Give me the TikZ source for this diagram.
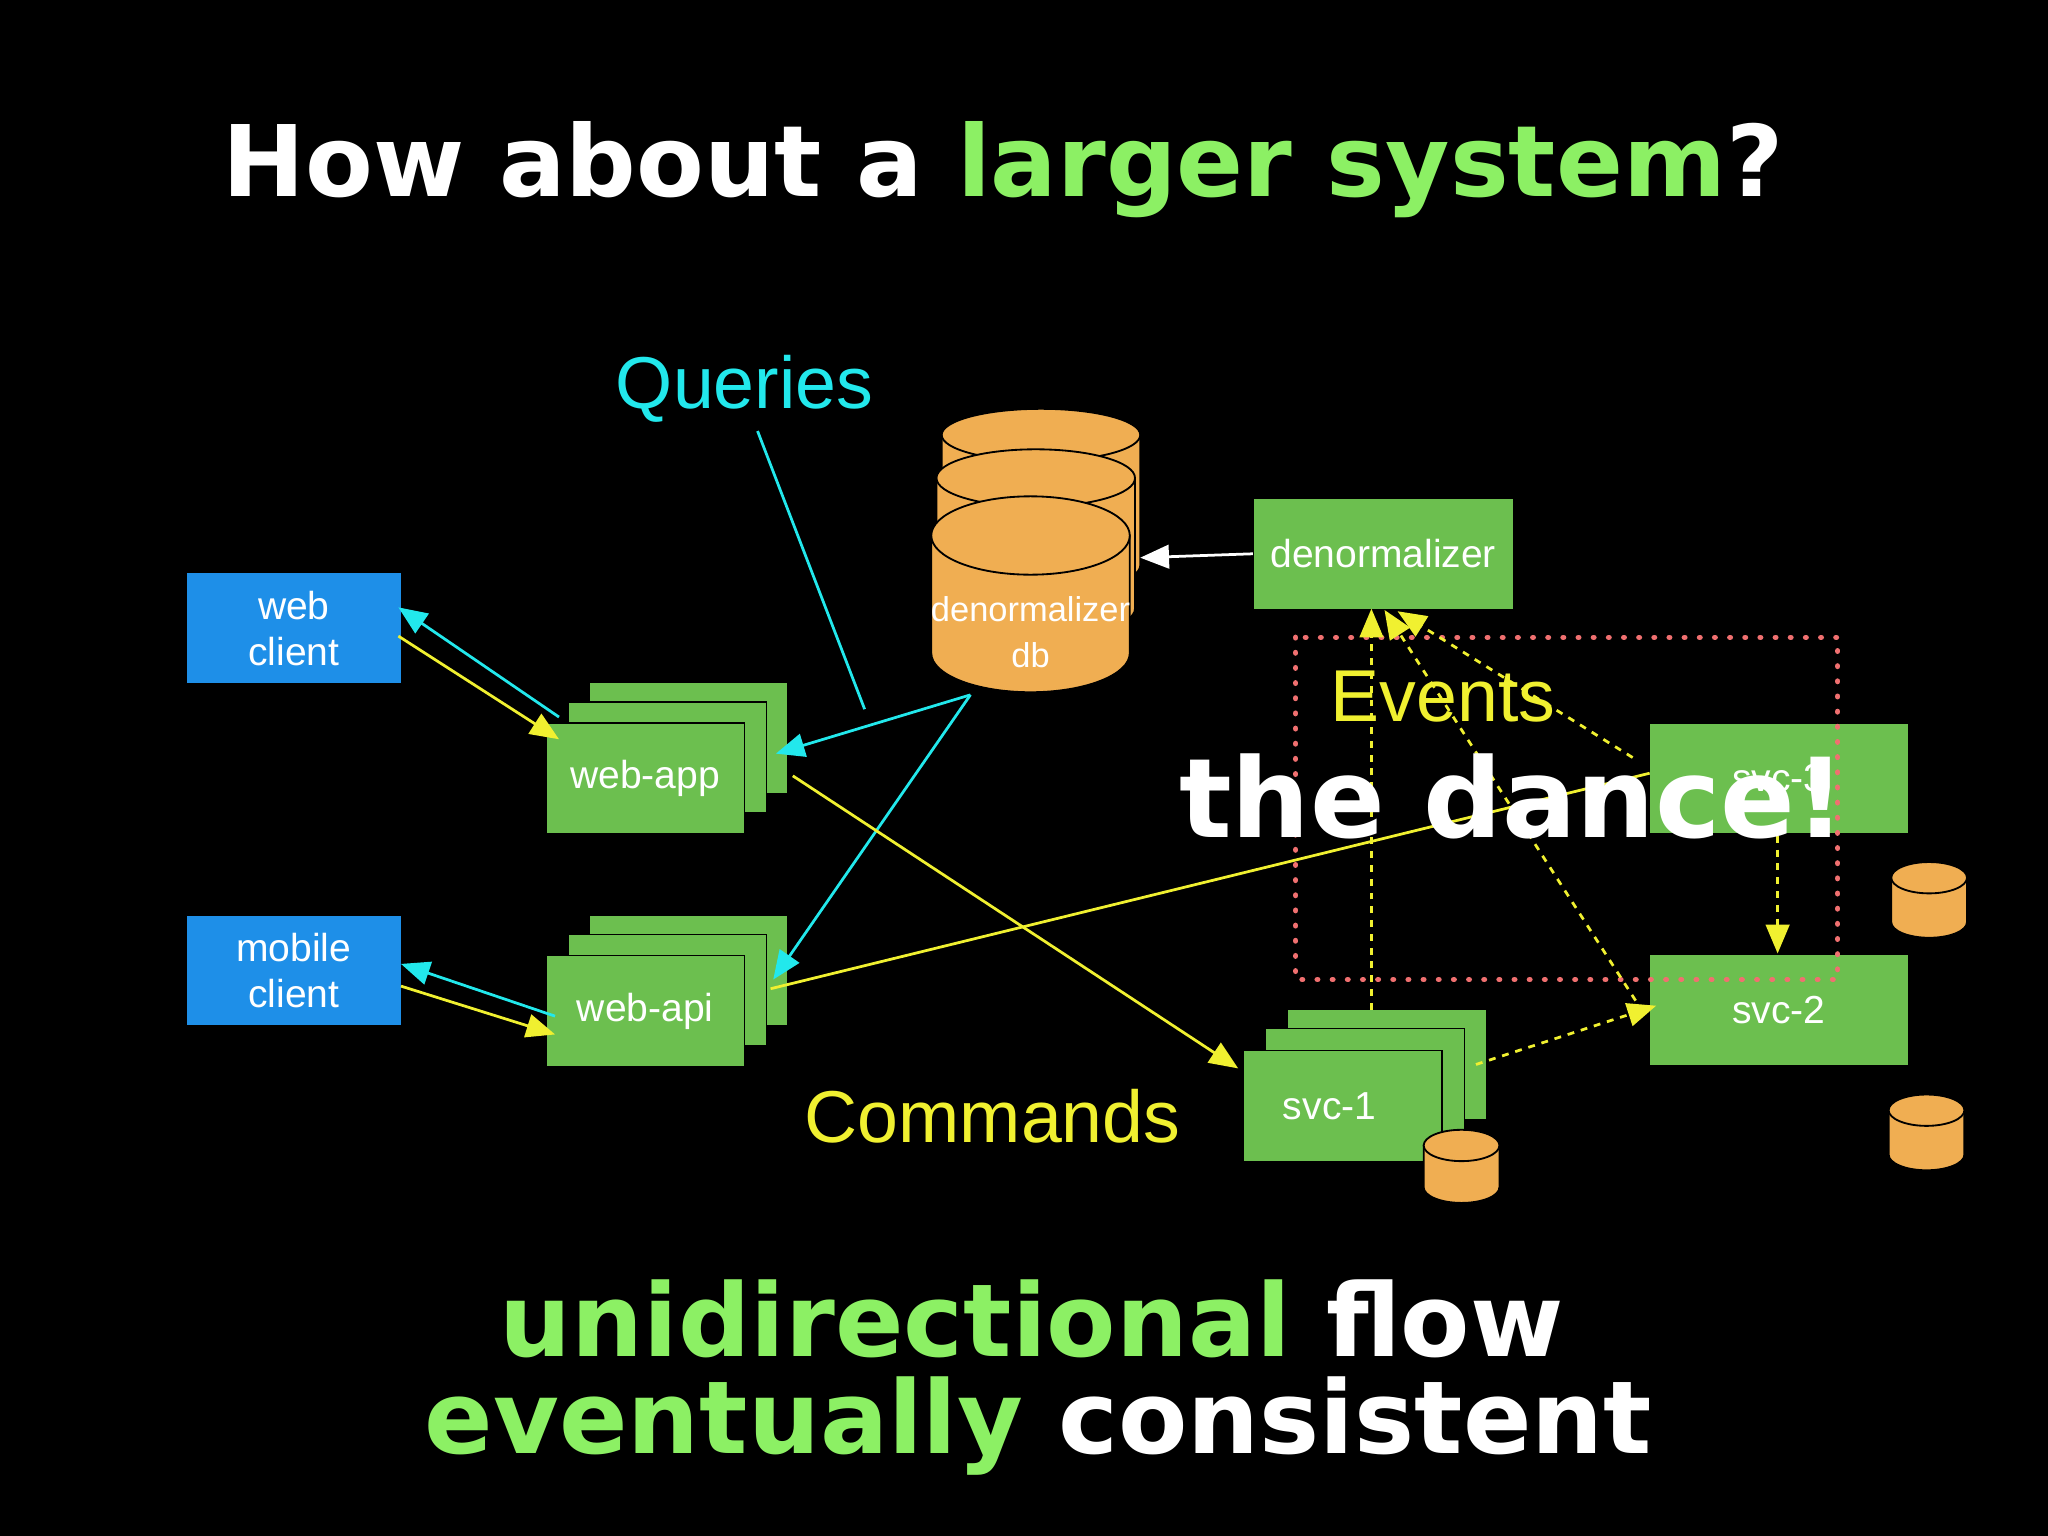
\documentclass[tikz,border=0pt]{standalone}
\usepackage{fontspec}
\setmainfont{Liberation Sans}
\newfontfamily\bold{DejaVu Sans}
\usetikzlibrary{arrows.meta}
\definecolor{grn}{HTML}{6CBF4F}
\definecolor{lgrn}{HTML}{8CF064}
\definecolor{blu}{HTML}{1E8FE8}
\definecolor{org}{HTML}{F0AE52}
\definecolor{cyn}{HTML}{22E8EC}
\definecolor{yel}{HTML}{F0F030}
\definecolor{rd}{HTML}{F07070}
\tikzset{
 box/.style={fill=#1,minimum width=1.64cm,minimum height=0.84cm,text=white,font=\fontsize{8.5}{10}\selectfont,align=center,inner sep=0},
 gbox/.style={fill=grn,draw=black,line width=0.3pt,minimum width=1.52cm,minimum height=0.85cm,inner sep=0},
 cya/.style={cyn,line width=0.6pt,-{Triangle[length=2.2mm,width=1.8mm]}},
 yla/.style={yel,line width=0.6pt,-{Triangle[length=2.2mm,width=1.8mm]}},
 ydash/.style={yla,dash pattern=on 1.5pt off 1.5pt},
 big/.style={font=\bold\bfseries\fontsize{22}{26}\selectfont}
}
\newcommand{\cyl}[5]{% x y rx ry h
 \fill[org,draw=black,line width=0.4pt] (#1-#3,#2) -- (#1-#3,#2+#5) arc[start angle=180,end angle=0,x radius=#3,y radius=#4] -- (#1+#3,#2) -- cycle;
 \draw[black,line width=0.4pt,fill=org] (#1,#2) ellipse[x radius=#3,y radius=#4];}
\begin{document}
\begin{tikzpicture}[x=0.01cm,y=-0.01cm]
\fill[black] (0,0) rectangle (1568,1176);
\node[font=\bold\bfseries\fontsize{21.5}{26}\selectfont] (title) at (768,130) {\textcolor{white}{How about a }\textcolor{lgrn}{larger system}\textcolor{white}{?}};
\node[cyn,font=\fontsize{16}{18}\selectfont] (q) at (570,298) {Queries};
\node[yel,font=\fontsize{16}{18}\selectfont] (cmd) at (760,855) {Commands};
% clients
\node[box=blu] (wc) at (225,481) {web\\client};
\node[box=blu] (mc) at (225,743) {mobile\\client};
% web-app
\node[gbox] at (527,565) {};
\node[gbox] at (511,580) {};
\node[gbox,text=white,font=\fontsize{8.5}{10}\selectfont] (wa) at (494,596) {web-app};
\node[gbox] at (527,743) {};
\node[gbox] at (511,758) {};
\node[gbox,text=white,font=\fontsize{8.5}{10}\selectfont] (wi) at (494,774) {web-api};
% svc-1
\node[gbox] at (1062,815) {};
\node[gbox] at (1045,830) {};
\node[gbox,text=white,font=\fontsize{8.5}{10}\selectfont] (s1) at (1028,847) {\hspace*{-0.2cm}svc-1};
\cyl{1119}{877}{29}{12}{32}
% denormalizer
\node[box=grn,minimum width=1.98cm] (dn) at (1059,424) {denormalizer};
\node[box=grn,minimum width=1.98cm] (s3) at (1362,596) {svc-3};
\node[box=grn,minimum width=1.98cm] (s2) at (1362,773) {svc-2};
\cyl{1477}{672}{29}{12}{34}
\cyl{1475}{850}{29}{12}{34}
% db stack
\cyl{797}{333}{76}{20}{100}
\cyl{793}{366}{76}{22}{100}
\cyl{789}{410}{76}{30}{90}
\node[white,font=\fontsize{7.5}{10}\selectfont,align=center] (db) at (789,484) {denormalizer\\db};
\coordinate (dbb) at (743,532);
% red dotted
\draw[rd,line width=1.2pt,dash pattern=on 0.1pt off 3.2pt,line cap=round] (992,488) rectangle (1407,750);
\node[yel,font=\fontsize{16}{18}\selectfont] (ev) at (1105,533) {Events};
% arrows
\draw[cya] (428,549) -- (305,465);
\draw[yla] (305,487) -- (428,566);
\draw[cya] (425,778) -- (307,738);
\draw[yla] (307,755) -- (425,792);
\draw[cyn,line width=0.6pt] (580,330) -- (662,543);
\draw[cya] (dbb) -- (594,577);
\draw[cya] (dbb) -- (592,750);
\draw[white,line width=0.6pt,-{Triangle[length=2.2mm,width=1.8mm]}] (dn.west) -- (873,427);
\draw[yla] (607,594) -- (948,818);
\draw[yel,line width=0.6pt] (590,757) -- (1263,592);
\draw[ydash] (1050,773) -- (1050,466);
\draw[ydash] (1258,775) -- (1060,467);
\draw[ydash] (1250,580) -- (1070,468);
\draw[ydash] (1130,815) -- (1268,770);
\draw[ydash] (1361,640) -- (1361,730);
\node[white,font=\bold\bfseries\fontsize{24}{28}\selectfont] (dance) at (1158,610) {the dance!};
\node[big] (b1) at (790,1010) {\textcolor{lgrn}{unidirectional} \textcolor{white}{flow}};
\node[big] (b2) at (795,1092) {\textcolor{lgrn}{eventually} \textcolor{white}{consistent}};
\end{tikzpicture}
\end{document}
